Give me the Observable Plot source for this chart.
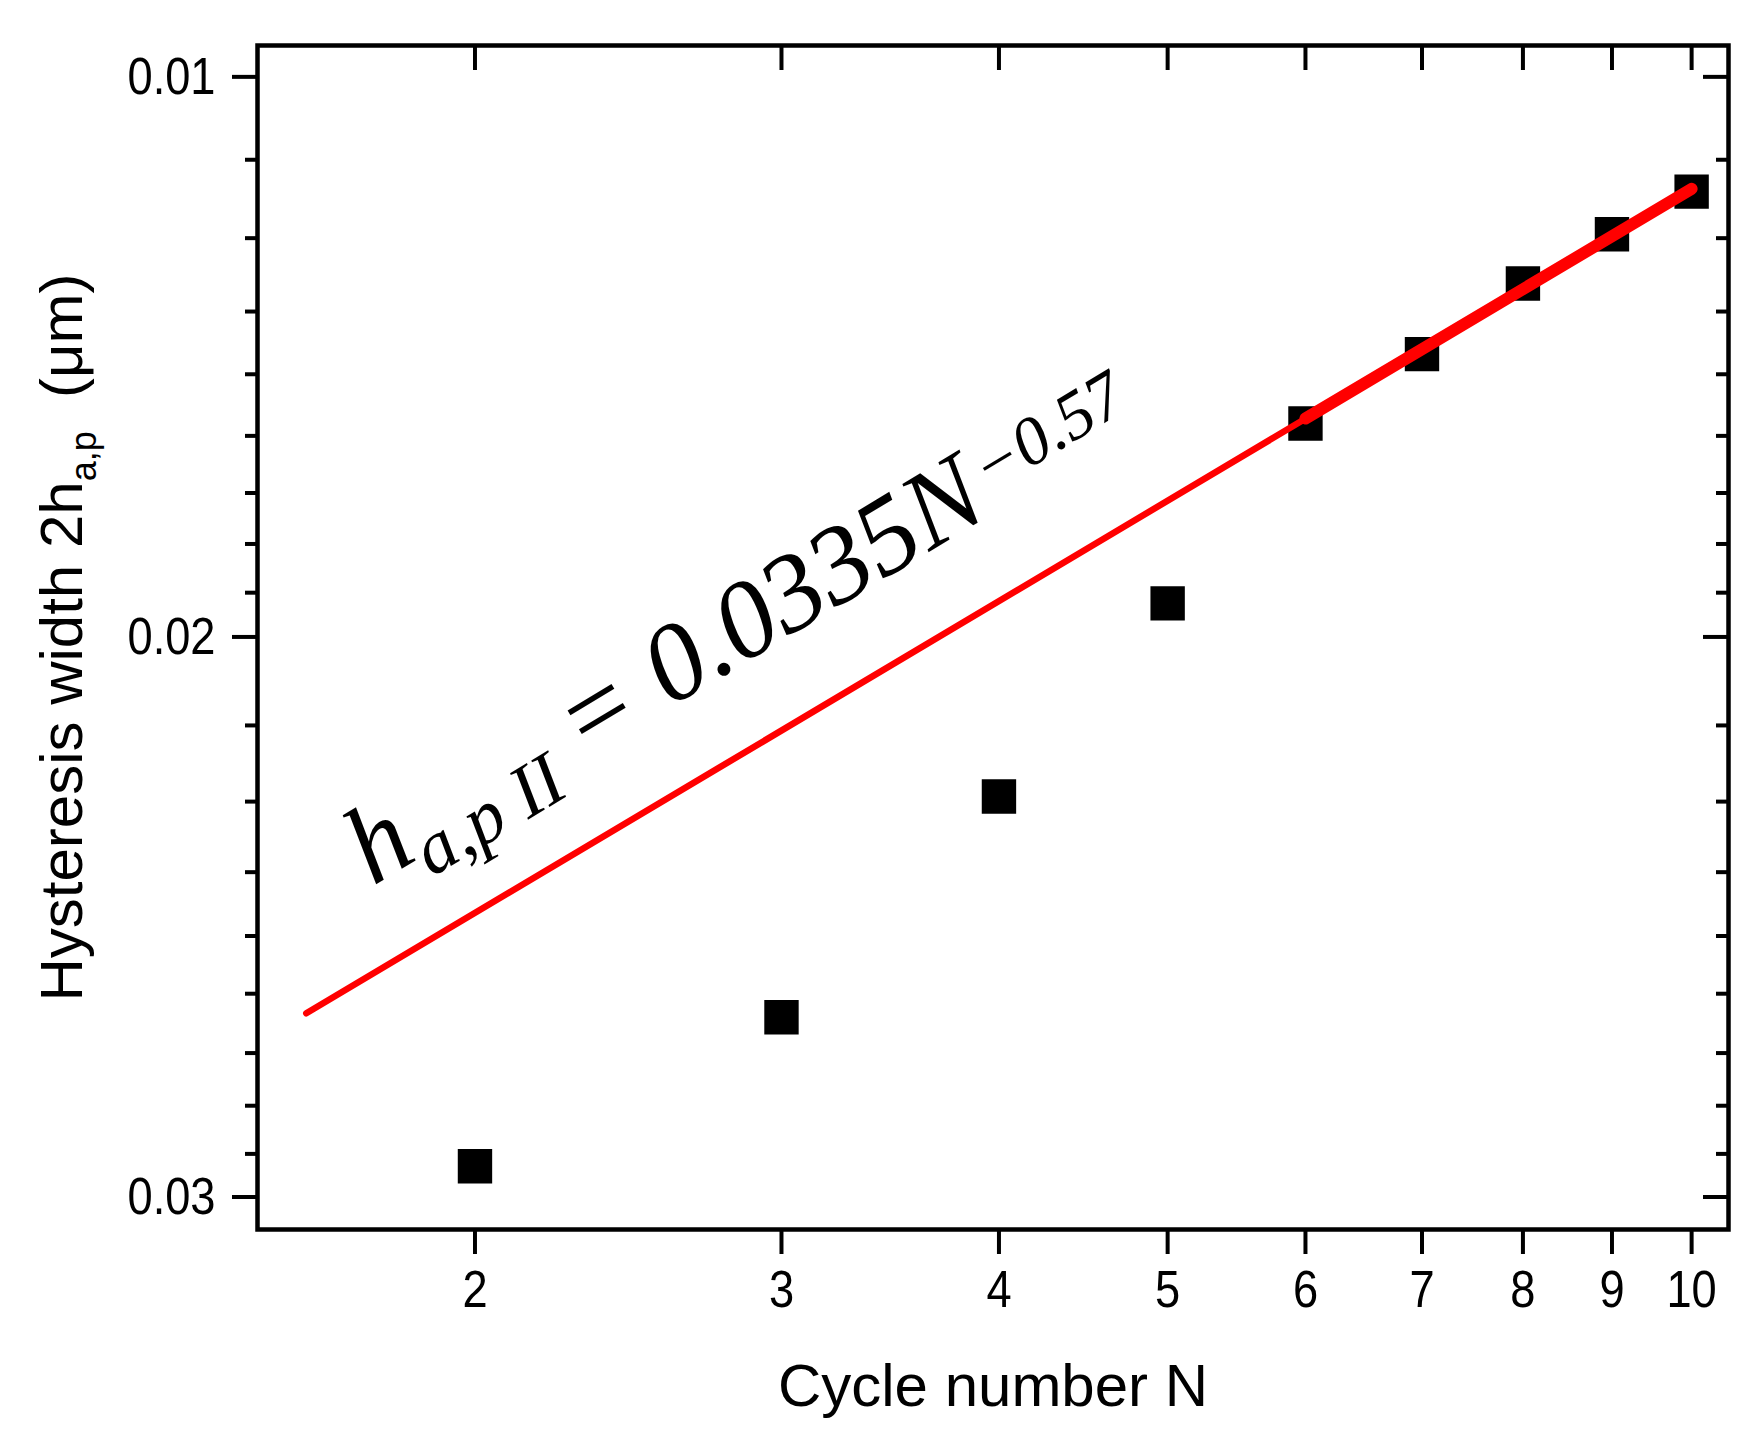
<!DOCTYPE html>
<html>
<head>
<meta charset="utf-8">
<script src="https://cdn.jsdelivr.net/npm/d3@7"></script>
<script src="https://cdn.jsdelivr.net/npm/@observablehq/plot@0.6"></script>
<style>
  html, body { margin: 0; padding: 0; background: #fff; }
  svg { display: block; }
</style>
</head>
<body>
<div id="chart"></div>
<script>
// ---- data ----
const cycleN = [2, 3, 4, 5, 6, 7, 8, 9, 10];
const width2h = [0.02945, 0.02679, 0.02285, 0.01940, 0.01619, 0.01495, 0.01369, 0.01281, 0.01205];

// fitted power-law line (straight on this plot)
const fitN = [1.6, 10];
const fitH = [0.02672, 0.01200];
const fitBoldN = [6, 10];
const fitBoldH = [0.01610, 0.01200];

// ticks
const xTicks = [2, 3, 4, 5, 6, 7, 8, 9, 10];
const yMajorTicks = [0.01, 0.02, 0.03];
const yMinorTicks = [0.01148, 0.01288, 0.01419, 0.01531, 0.01641, 0.01743, 0.01834, 0.01921,
                     0.02158, 0.02294, 0.02420, 0.02534, 0.02637, 0.02743, 0.02837, 0.02923];

// annotation
const annotN = [1.747];
const annotH = [0.02445];
const annotParts = [
  {text: "h"},
  {text: "a,p II", size: 75, dy: 23},
  {text: " = 0.0335", size: 110, dy: -23},
  {text: "N"},
  {text: "\u22120.57", size: 68, dy: -20, dx: 8}
];
const xLabel = "Cycle number N";
const yLabelParts = [
  {text: "Hysteresis width 2h"},
  {text: "a,p", size: 36, dy: 14},
  {text: "  (\u03bcm)", size: 60, dy: -14}
];

const points = cycleN.map((n, i) => ({N: n, h: width2h[i]}));
const fit = fitN.map((n, i) => ({N: n, h: fitH[i]}));
const fitBold = fitBoldN.map((n, i) => ({N: n, h: fitBoldH[i]}));

const W = 1759, H = 1438;
const mL = 257, mR = 31, mT = 45, mB = 209;
const frameW = W - mL - mR, frameH = H - mT - mB;

const chart = Plot.plot({
  width: W, height: H,
  marginLeft: mL, marginRight: mR, marginTop: mT, marginBottom: mB,
  x: {type: "log", domain: [1.5, 10.5]},
  y: {domain: [0.00944, 0.03058], reverse: true},
  style: {fontFamily: "'Liberation Sans', Arial, sans-serif", background: "white", color: "black"},
  marks: [
    Plot.axisX(xTicks, {tickSize: 25, tickPadding: 16, fontSize: 52, strokeWidth: 4, tickFormat: d => String(d), label: null}),
    Plot.axisY(yMajorTicks, {tickSize: 25, tickPadding: 17, fontSize: 52, strokeWidth: 4, tickFormat: d3.format(".2f"), label: null}),
    Plot.axisY(yMinorTicks, {tickSize: 12, strokeWidth: 4, tickFormat: () => "", label: null}),
    Plot.tickX(xTicks, {x: d => d, insetBottom: frameH - 25, strokeWidth: 4}),
    Plot.tickY(yMajorTicks, {y: d => d, insetLeft: frameW - 25, strokeWidth: 4}),
    Plot.tickY(yMinorTicks, {y: d => d, insetLeft: frameW - 12, strokeWidth: 4}),
    Plot.frame({strokeWidth: 4.5}),
    Plot.dot(points, {x: "N", y: "h", symbol: "square", r: 19.4, fill: "black", stroke: null}),
    Plot.line(fit, {x: "N", y: "h", stroke: "#f00", strokeWidth: 6.5}),
    Plot.line(fitBold, {x: "N", y: "h", stroke: "#f00", strokeWidth: 12}),
    Plot.text(annotN.map((n, i) => ({N: n, h: annotH[i]})), {
      x: "N", y: "h", text: () => annotParts.map(p => p.text).join(""),
      rotate: -31, textAnchor: "start", lineAnchor: "bottom",
      fontSize: 110, fontStyle: "italic", fontFamily: "'Liberation Serif', 'DejaVu Serif', serif",
      fill: "black", className: "annot"
    }),
    Plot.text([xLabel], {frameAnchor: "bottom", dy: 176, lineAnchor: "bottom", fontSize: 60, fill: "black"}),
    Plot.text([yLabelParts.map(p => p.text).join("")], {
      frameAnchor: "left", dx: -195, rotate: -90, textAnchor: "middle", fontSize: 60, fill: "black", className: "ylab"
    })
  ]
});

function rich(sel, parts) {
  d3.select(chart).selectAll(sel + " text").each(function () {
    const t = d3.select(this);
    t.text(null).style("white-space", "pre");
    for (const p of parts) {
      const s = t.append("tspan").text(p.text);
      if (p.size) s.attr("font-size", p.size);
      if (p.dy) s.attr("dy", p.dy);
      if (p.dx) s.attr("dx", p.dx);
    }
  });
}
rich(".annot", annotParts);
rich(".ylab", yLabelParts);

// tick labels in the reference are horizontally condensed
function condense(sel, k) {
  d3.select(chart).selectAll(sel).each(function () {
    const t = d3.select(this);
    const tr = t.attr("transform");
    if (tr) {
      t.attr("transform", tr + ` scale(${k},1)`);
    } else {
      const x = +t.attr("x") || 0, y = +t.attr("y") || 0;
      t.attr("x", null).attr("y", null).attr("transform", `translate(${x},${y}) scale(${k},1)`);
    }
  });
}
condense('g[aria-label="x-axis tick label"] text', 0.87);
condense('g[aria-label="y-axis tick label"] text', 0.87);

document.getElementById("chart").appendChild(chart);
</script>
</body>
</html>
